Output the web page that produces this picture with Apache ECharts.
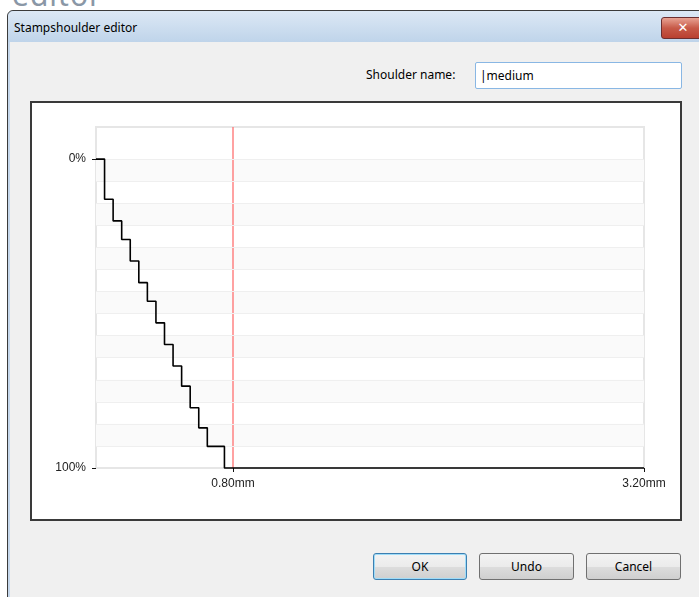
<!DOCTYPE html>
<html>
<head>
<meta charset="utf-8">
<script src="https://cdn.jsdelivr.net/npm/echarts@6.0.0/dist/echarts.min.js"></script>
<style>
  html, body { margin: 0; padding: 0; }
  body { width: 699px; height: 597px; overflow: hidden; position: relative; background: #fff;
         font-family: 'Noto Sans', 'DejaVu Sans', sans-serif; font-size: 12px; color: #000; }
  .bgword { position: absolute; left: 12px; top: -26px; font-size: 30px; color: #8a97a6; letter-spacing: 1px; }
  .win { position: absolute; left: 7px; top: 10px; width: 740px; height: 640px;
         border: 1px solid #3b3b3b; border-radius: 6px 6px 0 0; background: #c6d8ec; }
  .titlebar { position: absolute; left: 0; top: 0; right: 0; height: 31px; border-radius: 6px 6px 0 0;
              background: linear-gradient(#dce8f5, #bfd4ea); }
  .title { position: absolute; left: 6px; top: 8px; font-size: 12px; color: #000; }
  .close { position: absolute; left: 653px; top: 6px; width: 42px; height: 20px; border: 1px solid #6d2f2f;
           border-radius: 3px; background: linear-gradient(#e8a393, #c75a48 50%, #b94030); color: #fff;
           font-weight: bold; font-size: 13px; text-align: center; line-height: 19px; }
  .body { position: absolute; left: 2px; top: 31px; right: 0; bottom: 0; background: #f0f0f0; }
  .lbl { position: absolute; left: 366px; top: 66px; font-size: 12px; }
  .input { position: absolute; left: 475px; top: 62px; width: 205px; height: 25px; background: #fff;
           border: 1px solid #89b7e4; border-radius: 2px; }
  .input span { position: absolute; left: 4px; top: 4px; font-size: 12px; }
  .panel { position: absolute; left: 30px; top: 101px; width: 648px; height: 416px; background: #fff;
           border: 2px solid #3a3a3a; }
  #chart { position: absolute; left: 32px; top: 103px; width: 648px; height: 416px; }
  .btn { position: absolute; top: 553px; height: 25px; border: 1px solid #707070; border-radius: 3px;
         background: linear-gradient(#f3f3f3, #ebebeb 50%, #dddddd 51%, #cfcfcf); text-align: center;
         line-height: 25px; font-size: 12px; }
  .btn.def { border-color: #3c7fb1; box-shadow: inset 0 0 0 1px #9fdcf8; }
</style>
</head>
<body>
<div class="bgword">editor</div>
<div class="win">
  <div class="titlebar"><div class="title">Stampshoulder editor</div><div class="close">✕</div></div>
  <div class="body"></div>
</div>
<div class="lbl">Shoulder name:</div>
<div class="input"><span>|medium</span></div>
<div class="panel"></div>
<div id="chart"></div>
<div class="btn def" style="left:373px;width:92px;">OK</div>
<div class="btn" style="left:479px;width:93px;">Undo</div>
<div class="btn" style="left:586px;width:93px;">Cancel</div>

<script>
// staircase profile of the shoulder: depth (mm) vs. percent
const depthMm = [0, 0.05, 0.10, 0.15, 0.20, 0.25, 0.30, 0.35, 0.40, 0.45, 0.50, 0.55, 0.60, 0.65, 0.75, 3.20]
const shoulderPct = [0, 13, 20, 26, 33, 40, 46, 53, 60, 67, 73.5, 80.5, 87, 93, 100, 100]
const xTickValues = [0.8, 3.2]
const yTickValues = [0, 100]
const markerMm = [0.8]
const bandCount = 14

var yMin = -10.4, yMax = 100
var step = 100 / bandCount
var bands = []
var gridLines = []
for (var k = 0; k < bandCount; k++) {
  if (k % 2 === 0) bands.push([{ yAxis: k * step }, { yAxis: (k + 1) * step }])
  gridLines.push({ yAxis: k * step })
}

var chart = echarts.init(document.getElementById('chart'))
chart.setOption({
  animation: false,
  grid: {
    left: 64, right: 36, top: 24, bottom: 51,
    show: true, borderColor: '#e6e6e6', borderWidth: 2, backgroundColor: '#fff'
  },
  xAxis: {
    type: 'value', min: 0, max: 3.2, position: 'bottom',
    axisLine: { show: false, onZero: false },
    splitLine: { show: false },
    axisTick: { show: true, customValues: xTickValues, length: 4, lineStyle: { color: '#111' } },
    axisLabel: {
      customValues: xTickValues, margin: 10, color: '#222', fontSize: 12,
      fontFamily: 'Liberation Sans',
      formatter: function (v) { return v.toFixed(2) + 'mm' }
    }
  },
  yAxis: {
    type: 'value', min: yMin, max: yMax, inverse: true,
    axisLine: { show: false, onZero: false },
    splitLine: { show: false },
    axisTick: { show: true, customValues: yTickValues, length: 4, lineStyle: { color: '#111' } },
    axisLabel: {
      customValues: yTickValues, margin: 10, color: '#222', fontSize: 12,
      fontFamily: 'Liberation Sans',
      formatter: function (v) { return v + '%' }
    }
  },
  series: [
    {
      // background bands and grid lines
      type: 'line', data: [], z: 0, silent: true,
      markArea: { silent: true, itemStyle: { color: '#fafafa' }, data: bands },
      markLine: {
        silent: true, symbol: 'none', label: { show: false },
        lineStyle: { color: '#efefef', width: 1, type: 'solid' },
        data: gridLines
      }
    },
    {
      // red marker line spanning the full plot height
      type: 'line', z: 4, silent: true, symbol: 'none', clip: false,
      lineStyle: { color: '#ff7070', width: 1.3 },
      data: [[markerMm[0], yMin], [markerMm[0], yMax]]
    },
    {
      type: 'line', z: 5, step: 'end', symbol: 'none', clip: false,
      lineStyle: { color: '#000', width: 1.6 },
      data: depthMm.map(function (d, i) { return [d, shoulderPct[i]] })
    }
  ]
})
</script>
</body>
</html>
